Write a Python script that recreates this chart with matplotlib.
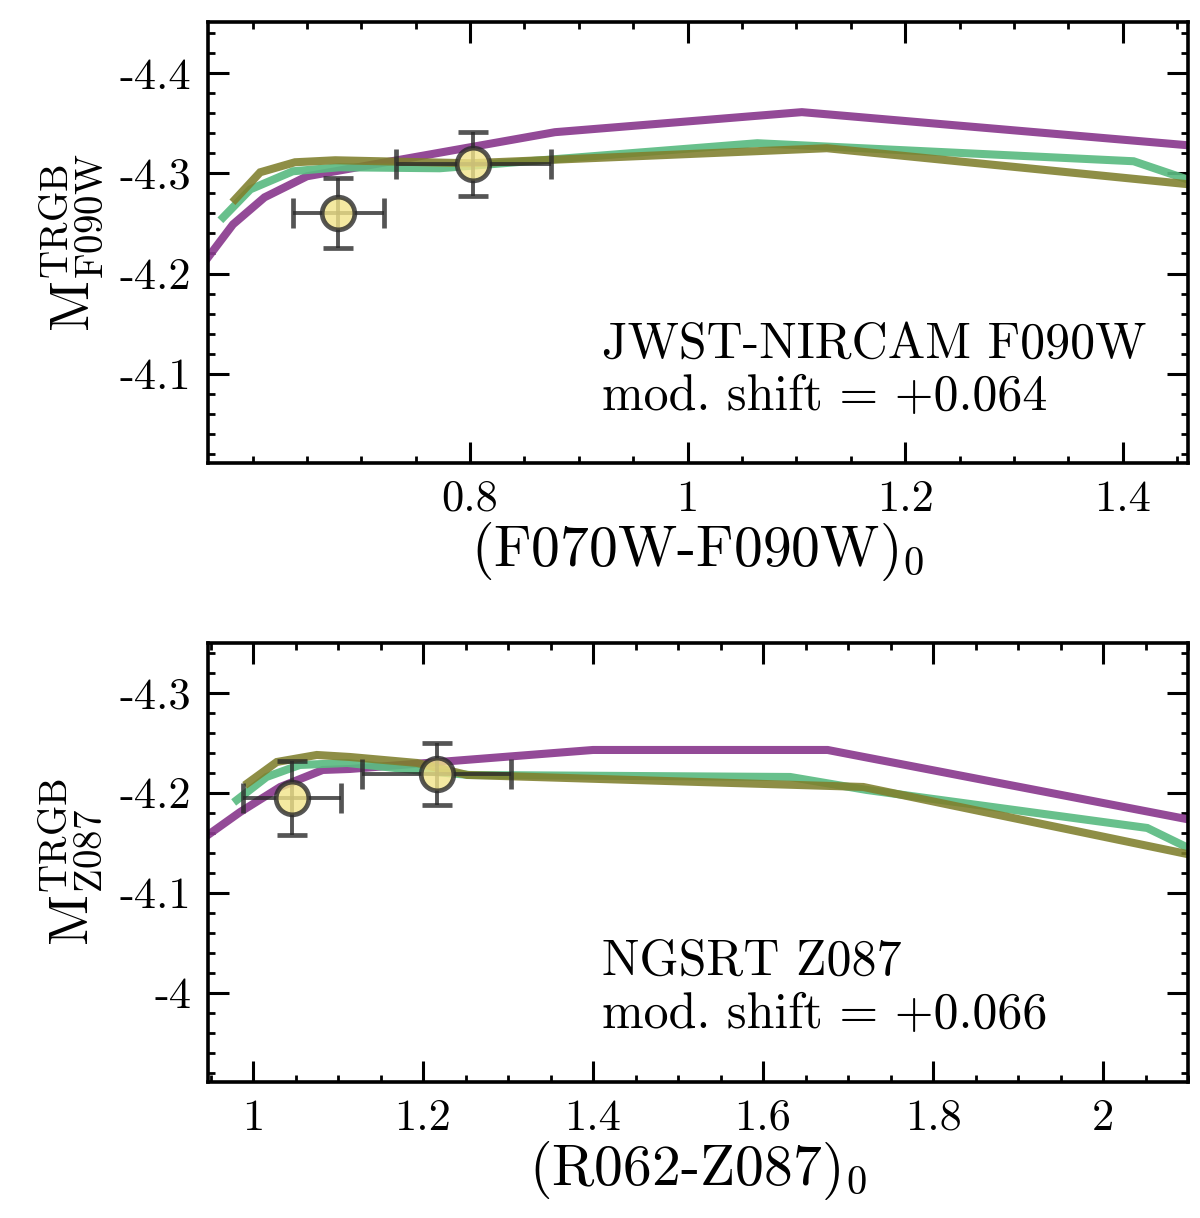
import matplotlib
matplotlib.use("Agg")
import matplotlib.pyplot as plt
from matplotlib.ticker import MultipleLocator, FuncFormatter, FixedLocator

plt.rcParams['font.family'] = 'serif'
plt.rcParams['font.serif'] = ['cmr10']
plt.rcParams['mathtext.fontset'] = 'cm'
plt.rcParams['axes.formatter.use_mathtext'] = True

# ---------------- data: top panel (JWST F090W) ----------------
top_purple_x = [0.559, 0.582, 0.611, 0.650, 0.878, 1.105, 1.470]
top_purple_y = [-4.216, -4.249, -4.276, -4.297, -4.341, -4.361, -4.327]
top_green_x = [0.573, 0.598, 0.637, 0.680, 0.772, 1.064, 1.410, 1.470]
top_green_y = [-4.256, -4.284, -4.302, -4.306, -4.305, -4.330, -4.312, -4.290]
top_olive_x = [0.584, 0.607, 0.639, 0.676, 0.717, 0.800, 1.128, 1.470]
top_olive_y = [-4.274, -4.301, -4.311, -4.313, -4.312, -4.310, -4.325, -4.288]
top_pts_x = [0.679, 0.803]
top_pts_y = [-4.260, -4.309]
top_pts_xerr = [0.042, 0.071]
top_pts_yerr = [0.035, 0.032]
top_title = "JWST-NIRCAM F090W"
top_shift = "mod. shift = +0.064"

# ---------------- data: bottom panel (NGSRT Z087) ----------------
bot_purple_x = [0.947, 0.985, 1.032, 1.082, 1.114, 1.400, 1.676, 2.110]
bot_purple_y = [-4.158, -4.181, -4.206, -4.223, -4.224, -4.243, -4.243, -4.172]
bot_green_x = [0.981, 1.016, 1.055, 1.111, 1.212, 1.255, 1.632, 1.722, 2.052, 2.110]
bot_green_y = [-4.193, -4.216, -4.228, -4.230, -4.221, -4.218, -4.216, -4.203, -4.165, -4.141]
bot_olive_x = [0.994, 1.028, 1.075, 1.114, 1.193, 1.252, 1.718, 2.110]
bot_olive_y = [-4.210, -4.231, -4.238, -4.236, -4.230, -4.218, -4.206, -4.137]
bot_pts_x = [1.046, 1.216]
bot_pts_y = [-4.195, -4.219]
bot_pts_xerr = [0.058, 0.088]
bot_pts_yerr = [0.037, 0.031]
bot_title = "NGSRT Z087"
bot_shift = "mod. shift = +0.066"

top_xticks = [0.8, 1.0, 1.2, 1.4]
top_yticks = [-4.4, -4.3, -4.2, -4.1]
bot_xticks = [1.0, 1.2, 1.4, 1.6, 1.8, 2.0]
bot_yticks = [-4.3, -4.2, -4.1, -4.0]

PURPLE = '#8a3a8e'
GREEN = '#5bbb82'
OLIVE = '#7f7f2c'

fig = plt.figure(figsize=(12, 12.18), dpi=100)
ax1 = fig.add_axes([0.1733, 0.6199, 0.8167, 0.3621])
ax2 = fig.add_axes([0.1733, 0.1117, 0.8167, 0.3604])

fmt = FuncFormatter(lambda v, p: f"{v:g}")


def draw(ax, px, py, gx, gy, ox, oy, ex, ey, exe, eye, t1, t2, xlim, ylim,
         xt, yt, xlabel, ylabel, ty1, ty2):
    lw = 5.8
    ax.plot(px, py, color=PURPLE, lw=lw, alpha=0.92, solid_joinstyle='miter', zorder=2)
    ax.plot(gx, gy, color=GREEN, lw=lw, alpha=0.92, solid_joinstyle='miter', zorder=2)
    ax.plot(ox, oy, color=OLIVE, lw=lw, alpha=0.88, solid_joinstyle='miter', zorder=2)
    ax.errorbar(ex, ey, xerr=exe, yerr=eye, fmt='o', ms=23.5, mfc='#f2e48a',
                mec='#2a2a2a', mew=3.4, ecolor='#2a2a2a', elinewidth=2.8,
                capsize=11, capthick=3.0, alpha=0.8, zorder=4)
    ax.set_xlim(*xlim)
    ax.set_ylim(*ylim)
    ax.xaxis.set_major_locator(FixedLocator(xt))
    ax.yaxis.set_major_locator(FixedLocator(yt))
    ax.xaxis.set_minor_locator(MultipleLocator(0.05))
    ax.yaxis.set_minor_locator(MultipleLocator(0.02))
    ax.xaxis.set_major_formatter(fmt)
    ax.yaxis.set_major_formatter(fmt)
    ax.tick_params(which='both', direction='in', top=True, right=True,
                   labelsize=32)
    ax.tick_params(which='major', length=15, width=2.2, pad=12)
    ax.tick_params(which='minor', length=5, width=2.0)
    for s in ax.spines.values():
        s.set_linewidth(2.6)
    ax.set_xlabel(xlabel, fontsize=41.5, labelpad=0)
    ax.set_ylabel(ylabel, fontsize=40, labelpad=10)
    ax.text(0.402, ty1, t1, transform=ax.transAxes, fontsize=36,
            ha='left', va='baseline')
    ax.text(0.402, ty2, t2, transform=ax.transAxes, fontsize=36,
            ha='left', va='baseline')


draw(ax1, top_purple_x, top_purple_y, top_green_x, top_green_y,
     top_olive_x, top_olive_y, top_pts_x, top_pts_y, top_pts_xerr, top_pts_yerr,
     top_title, top_shift, (0.559, 1.46), (-4.011, -4.451),
     top_xticks, top_yticks, r'(F070W-F090W)$_0$',
     r'$\mathrm{M}^{\mathrm{TRGB}}_{\mathrm{F090W}}$', 0.238, 0.120)
draw(ax2, bot_purple_x, bot_purple_y, bot_green_x, bot_green_y,
     bot_olive_x, bot_olive_y, bot_pts_x, bot_pts_y, bot_pts_xerr, bot_pts_yerr,
     bot_title, bot_shift, (0.947, 2.10), (-3.911, -4.35),
     bot_xticks, bot_yticks, r'(R062-Z087)$_0$',
     r'$\mathrm{M}^{\mathrm{TRGB}}_{\mathrm{Z087}}$', 0.244, 0.123)

fig.savefig('out.png', dpi=100)
